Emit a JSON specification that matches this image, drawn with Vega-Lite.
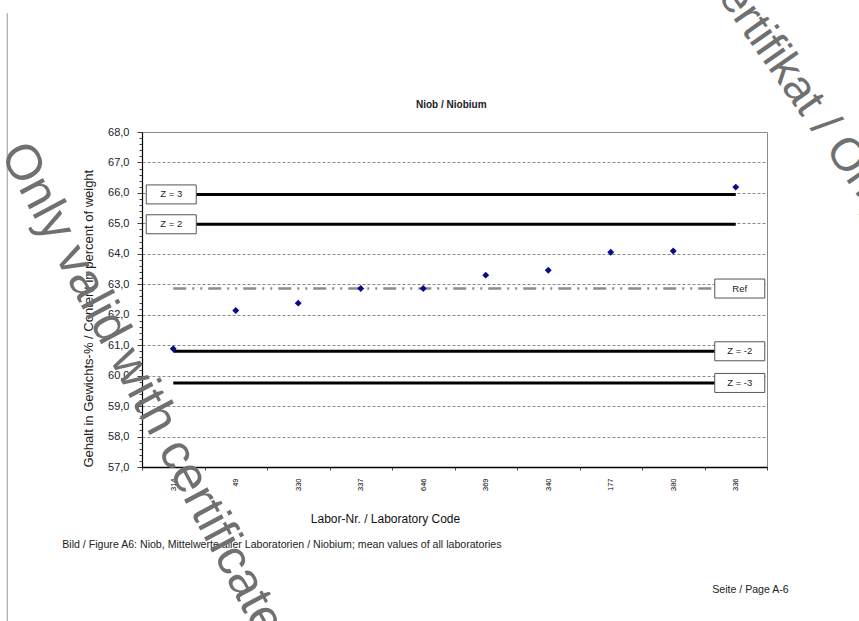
{
  "$schema": "https://vega.github.io/schema/vega-lite/v6.json",
  "autosize": {"type": "none"},
  "width": 625,
  "height": 335,
  "padding": {"left": 142, "top": 132, "right": 92, "bottom": 154},
  "background": "white",
  "config": {
    "view": {"stroke": "#8a8a8a", "strokeWidth": 1},
    "font": "Liberation Sans"
  },
  "datasets": {
    "labs": [
      {"lab": "314", "value": 60.88},
      {"lab": "49", "value": 62.14},
      {"lab": "330", "value": 62.38},
      {"lab": "337", "value": 62.86},
      {"lab": "646", "value": 62.86},
      {"lab": "369", "value": 63.3},
      {"lab": "340", "value": 63.46},
      {"lab": "177", "value": 64.05},
      {"lab": "380", "value": 64.09},
      {"lab": "336", "value": 66.19}
    ],
    "limits": [
      {"name": "Z = 3", "value": 65.95, "side": "left", "kind": "z"},
      {"name": "Z = 2", "value": 64.97, "side": "left", "kind": "z"},
      {"name": "Ref", "value": 62.86, "side": "right", "kind": "ref"},
      {"name": "Z = -2", "value": 60.8, "side": "right", "kind": "z"},
      {"name": "Z = -3", "value": 59.76, "side": "right", "kind": "z"}
    ]
  },
  "encoding": {
    "x": {
      "field": "lab", "type": "ordinal", "sort": null,
      "scale": {"type": "band", "domain": ["314", "49", "330", "337", "646", "369", "340", "177", "380", "336"], "paddingInner": 0, "paddingOuter": 0},
      "axis": {
        "title": "Labor-Nr. / Laboratory Code",
        "titleFontSize": 12, "titleFontWeight": "normal", "titleColor": "#111",
        "titleX": 243, "titleY": 51, "titleBaseline": "middle",
        "labelAngle": -90, "labelAlign": "right", "labelBaseline": "middle",
        "labelFontSize": 7.5, "labelColor": "#000", "labelPadding": 8,
        "tickBand": "extent", "tickSize": 3, "tickColor": "#444",
        "domainColor": "#000", "domainWidth": 1.5, "grid": false
      }
    },
    "y": {
      "field": "value", "type": "quantitative",
      "scale": {"domain": [57, 68], "nice": false, "zero": false},
      "axis": {
        "title": "Gehalt in Gewichts-% / Content in percent of weight",
        "titleFontSize": 13, "titleFontWeight": "normal", "titleColor": "#222",
        "titleX": -54, "titleY": 335, "titleAlign": "left", "titleBaseline": "middle", "titleAngle": -90,
        "values": [57, 57.2, 57.4, 57.6, 57.8, 58, 58.2, 58.4, 58.6, 58.8, 59, 59.2, 59.4, 59.6, 59.8, 60, 60.2, 60.4, 60.6, 60.8, 61, 61.2, 61.4, 61.6, 61.8, 62, 62.2, 62.4, 62.6, 62.8, 63, 63.2, 63.4, 63.6, 63.8, 64, 64.2, 64.4, 64.6, 64.8, 65, 65.2, 65.4, 65.6, 65.8, 66, 66.2, 66.4, 66.6, 66.8, 67, 67.2, 67.4, 67.6, 67.8, 68],
        "labelExpr": "abs(datum.value - round(datum.value)) < 0.01 ? replace(format(datum.value, '.1f'), '.', ',') : ''",
        "labelOverlap": false, "labelFontSize": 11, "labelColor": "#222", "labelPadding": 8,
        "tickSize": {"condition": {"test": "abs(datum.value - round(datum.value)) < 0.01", "value": 5}, "value": 3},
        "tickColor": "#444",
        "grid": true,
        "gridOpacity": {"condition": {"test": "abs(datum.value - round(datum.value)) < 0.01", "value": 1}, "value": 0},
        "gridColor": "#8a8a8a", "gridDash": [3, 2], "gridWidth": 1,
        "domainColor": "#000", "domainWidth": 1.2
      }
    }
  },
  "layer": [
    {
      "data": {"name": "limits"},
      "transform": [{"filter": "datum.kind === 'ref'"}],
      "mark": {"type": "rule", "color": "#8c8c8c", "strokeWidth": 2.5, "strokeDash": [13, 6, 2, 6, 2, 6]},
      "encoding": {"x": {"datum": "314"}, "x2": {"datum": "336"}, "y": {"field": "value", "type": "quantitative"}}
    },
    {
      "data": {"name": "limits"},
      "transform": [{"filter": "datum.kind === 'z'"}],
      "mark": {"type": "rule", "color": "#000", "strokeWidth": 3},
      "encoding": {"x": {"datum": "314"}, "x2": {"datum": "336"}, "y": {"field": "value", "type": "quantitative"}}
    },
    {
      "data": {"name": "labs"},
      "mark": {"type": "point", "shape": "diamond", "filled": true, "size": 48, "color": "#0a0a8c", "opacity": 1}
    },
    {
      "data": {"name": "limits"},
      "transform": [{"filter": "datum.side === 'left'"}],
      "layer": [
        {"mark": {"type": "point", "shape": "M-1,-0.38H1V0.38H-1Z", "size": 2500, "filled": true, "fill": "white", "stroke": "#555", "strokeWidth": 1, "opacity": 1, "xOffset": -2},
         "encoding": {"x": {"datum": "314"}, "y": {"field": "value", "type": "quantitative"}}},
        {"mark": {"type": "text", "fontSize": 9.5, "color": "#222", "xOffset": -2},
         "encoding": {"x": {"datum": "314"}, "y": {"field": "value", "type": "quantitative"}, "text": {"field": "name"}}}
      ]
    },
    {
      "data": {"name": "limits"},
      "transform": [{"filter": "datum.side === 'right'"}],
      "layer": [
        {"mark": {"type": "point", "shape": "M-1,-0.38H1V0.38H-1Z", "size": 2500, "filled": true, "fill": "white", "stroke": "#555", "strokeWidth": 1, "opacity": 1, "xOffset": 4},
         "encoding": {"x": {"datum": "336"}, "y": {"field": "value", "type": "quantitative"}}},
        {"mark": {"type": "text", "fontSize": 9.5, "color": "#222", "xOffset": 4},
         "encoding": {"x": {"datum": "336"}, "y": {"field": "value", "type": "quantitative"}, "text": {"field": "name"}}}
      ]
    },
    {
      "data": {"name": "labs"},
      "transform": [{"filter": "datum.lab === '314'"}],
      "mark": {"type": "text", "text": "Niob / Niobium", "align": "center", "baseline": "middle", "fontSize": 10, "fontWeight": "bold", "color": "#222", "xOffset": 28},
      "encoding": {"x": {"datum": "646"}, "y": {"datum": 68.89}}
    },
    {
      "data": {"name": "labs"},
      "transform": [{"filter": "datum.lab === '314'"}],
      "mark": {"type": "text", "text": "Bild / Figure A6: Niob, Mittelwerte aller Laboratorien / Niobium; mean values of all laboratories", "align": "left", "baseline": "middle", "fontSize": 10.6, "color": "#222", "xOffset": -111},
      "encoding": {"x": {"datum": "314"}, "y": {"datum": 54.44}}
    },
    {
      "data": {"name": "labs"},
      "transform": [{"filter": "datum.lab === '314'"}],
      "mark": {"type": "text", "text": "Seite / Page A-6", "align": "right", "baseline": "middle", "fontSize": 10.6, "color": "#222", "xOffset": 53},
      "encoding": {"x": {"datum": "336"}, "y": {"datum": 52.96}}
    },
    {
      "data": {"name": "labs"},
      "transform": [{"filter": "datum.lab === '314'"}],
      "mark": {"type": "rule", "color": "#999", "strokeWidth": 1, "xOffset": -166},
      "encoding": {"x": {"datum": "314"}, "y": {"datum": 71.9}, "y2": {"datum": 51.9}}
    },
    {
      "data": {"name": "labs"},
      "transform": [{"filter": "datum.lab === '314'"}],
      "mark": {"type": "text", "text": "Only valid with certificate", "align": "center", "baseline": "middle", "fontSize": 50, "color": "#707070", "angle": 62, "xOffset": -31},
      "encoding": {"x": {"datum": "314"}, "y": {"datum": 59.56}}
    },
    {
      "data": {"name": "labs"},
      "transform": [{"filter": "datum.lab === '314'"}],
      "mark": {"type": "text", "text": "Zertifikat / Only valid with certificate", "align": "left", "baseline": "middle", "fontSize": 46, "color": "#707070", "angle": 55, "xOffset": -23},
      "encoding": {"x": {"datum": "336"}, "y": {"datum": 73.48}}
    }
  ]
}
